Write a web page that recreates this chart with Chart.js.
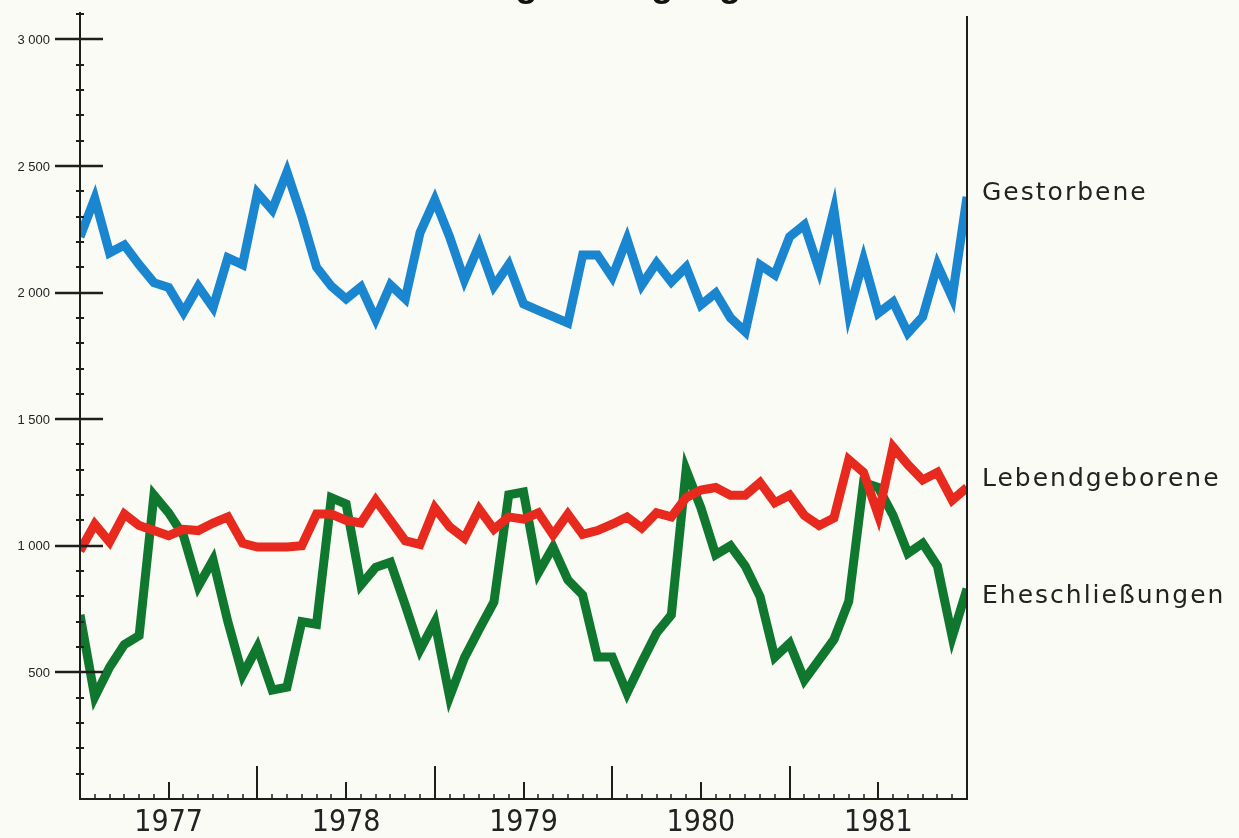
<!DOCTYPE html>
<html>
<head>
<meta charset="utf-8">
<script src="https://cdn.jsdelivr.net/npm/chart.js@4/dist/chart.umd.min.js"></script>
<style>
	html, body { margin: 0; padding: 0; background: #fbfbf6; }
	canvas { display: block; }
</style>
</head>
<body>
<canvas id="chartBevoelkerung" width="1239" height="838"></canvas>
<script>
'use strict'

// months since January 1977 (month boundaries, Jan 1977 .. Jan 1982)
const months = [0, 1, 2, 3, 4, 5, 6, 7, 8, 9, 10, 11, 12, 13, 14, 15, 16, 17, 18, 19, 20,
	21, 22, 23, 24, 25, 26, 27, 28, 29, 30, 31, 32, 33, 34, 35, 36, 37, 38, 39, 40,
	41, 42, 43, 44, 45, 46, 47, 48, 49, 50, 51, 52, 53, 54, 55, 56, 57, 58, 59, 60];
const years = ['1977', '1978', '1979', '1980', '1981'];
const yMajor = [500, 1000, 1500, 2000, 2500, 3000];
const yMajorLabels = ['500', '1 000', '1 500', '2 000', '2 500', '3 000'];
const seriesNames = ['Gestorbene', 'Lebendgeborene', 'Eheschließungen'];
const title = 'Bevölkerungsbewegung';

const gestorbene = [2220, 2372, 2157, 2188, 2110, 2039, 2020, 1922, 2024, 1941, 2137, 2110, 2393,
	2326, 2476, 2300, 2100, 2025, 1975, 2022, 1895, 2030, 1975, 2236, 2366,
	2220, 2050, 2187, 2025, 2110, 1955, 1930, 1905, 1880, 2148, 2148, 2061,
	2211, 2030, 2117, 2042, 2101, 1951, 1998, 1900, 1845, 2109, 2070, 2220,
	2267, 2090, 2326, 1919, 2129, 1919, 1963, 1840, 1904, 2109, 1980, 2378];
const lebendgeborene = [980, 1085, 1015, 1125, 1080, 1060, 1040, 1065, 1060, 1090, 1114, 1010, 995,
	995, 995, 1000, 1125, 1125, 1100, 1090, 1180, 1100, 1020, 1005, 1150,
	1075, 1030, 1145, 1065, 1114, 1105, 1130, 1043, 1125, 1045, 1060, 1085,
	1114, 1070, 1130, 1114, 1190, 1220, 1230, 1200, 1200, 1250, 1170, 1200,
	1120, 1080, 1110, 1340, 1290, 1120, 1390, 1320, 1260, 1290, 1180, 1230];
const eheschliessungen = [727, 403, 520, 610, 645, 1200, 1130, 1040, 840, 944, 700, 490, 600,
	430, 442, 700, 690, 1190, 1165, 845, 915, 935, 766, 589, 699,
	403, 557, 670, 778, 1201, 1212, 893, 995, 865, 806, 561, 561,
	419, 540, 656, 727, 1300, 1150, 965, 1000, 920, 800, 560, 615,
	470, 550, 630, 780, 1250, 1230, 1120, 970, 1010, 920, 640, 830];

const colors = {
	blue: '#1a86cf',
	red: '#e8291d',
	green: '#10772f',
	ink: '#1c1f1c',
	text: '#222222',
};

const frame = {
	id: 'frame',
	afterDatasetsDraw(chart) {
		const { ctx, chartArea: { left, right, top, bottom }, scales: { x, y } } = chart;
		ctx.save();
		ctx.strokeStyle = colors.ink;
		ctx.lineCap = 'butt';

		// axes
		ctx.lineWidth = 2;
		ctx.beginPath();
		ctx.moveTo(left, top - 2);
		ctx.lineTo(left, bottom);
		ctx.lineTo(right, bottom);
		ctx.lineTo(right, top + 2);
		ctx.stroke();

		// y ticks every 100, long ones every 500
		for (let v = 100; v <= 3100; v += 100) {
			const py = Math.round(y.getPixelForValue(v));
			const major = v % 500 === 0;
			ctx.lineWidth = major ? 2.5 : 2;
			ctx.beginPath();
			ctx.moveTo(left - (major ? 25 : 4), py);
			ctx.lineTo(left + (major ? 23 : 4), py);
			ctx.stroke();
		}

		// x ticks: months small, July medium, year boundary tall
		for (let i = 1; i < 60; i++) {
			const px = Math.round(x.getPixelForValue(i));
			const h = i % 12 === 0 ? 33 : (i % 6 === 0 ? 17 : 5);
			ctx.lineWidth = i % 6 === 0 ? 2 : 1.5;
			ctx.beginPath();
			ctx.moveTo(px, bottom);
			ctx.lineTo(px, bottom - h);
			ctx.stroke();
		}

		// y labels
		ctx.fillStyle = colors.text;
		ctx.font = '13px "Liberation Sans", Arial, sans-serif';
		ctx.textAlign = 'right';
		ctx.textBaseline = 'middle';
		yMajor.forEach((v, idx) => {
			ctx.fillText(yMajorLabels[idx], left - 30, y.getPixelForValue(v) + 1);
		});

		// year labels at mid-year
		ctx.font = '30px "Liberation Sans Narrow", "DejaVu Sans Condensed", "Liberation Sans", sans-serif';
		ctx.textAlign = 'center';
		ctx.textBaseline = 'alphabetic';
		years.forEach((label, k) => {
			ctx.fillText(label, x.getPixelForValue(6 + 12 * k), bottom + 32);
		});

		// series names on the right
		ctx.font = '25px "DejaVu Sans", sans-serif';
		ctx.letterSpacing = '2px';
		ctx.textAlign = 'left';
		ctx.textBaseline = 'middle';
		const nameValues = [2390, 1260, 798];
		seriesNames.forEach((name, idx) => {
			ctx.fillText(name, right + 15, y.getPixelForValue(nameValues[idx]));
		});
		ctx.letterSpacing = '0px';

		// title, cut by the top edge as in the scan (only descenders remain)
		ctx.font = 'bold 37px "Liberation Sans", Arial, sans-serif';
		ctx.textAlign = 'center';
		ctx.textBaseline = 'alphabetic';
		ctx.fillStyle = '#111';
		ctx.fillText(title, (left + right) / 2 + 4, -4);

		ctx.restore();
	},
};

const lineStyle = {
	borderWidth: 9,
	pointRadius: 0,
	tension: 0,
	borderJoinStyle: 'miter',
	borderCapStyle: 'butt',
	fill: false,
};

new Chart(document.getElementById('chartBevoelkerung'), {
	type: 'line',
	data: {
		labels: months,
		datasets: [
			{ label: seriesNames[1], data: lebendgeborene, borderColor: colors.red, ...lineStyle },
			{ label: seriesNames[2], data: eheschliessungen, borderColor: colors.green, ...lineStyle },
			{ label: seriesNames[0], data: gestorbene, borderColor: colors.blue, ...lineStyle },
		],
	},
	options: {
		responsive: false,
		animation: false,
		devicePixelRatio: 1,
		events: [],
		layout: {
			padding: { left: 80, right: 272, top: 14, bottom: 39 },
		},
		scales: {
			x: { type: 'linear', min: 0, max: 60, display: false },
			y: { min: 0, max: 3100, display: false },
		},
		plugins: {
			legend: { display: false },
			tooltip: { enabled: false },
		},
	},
	plugins: [frame],
});
</script>
</body>
</html>
